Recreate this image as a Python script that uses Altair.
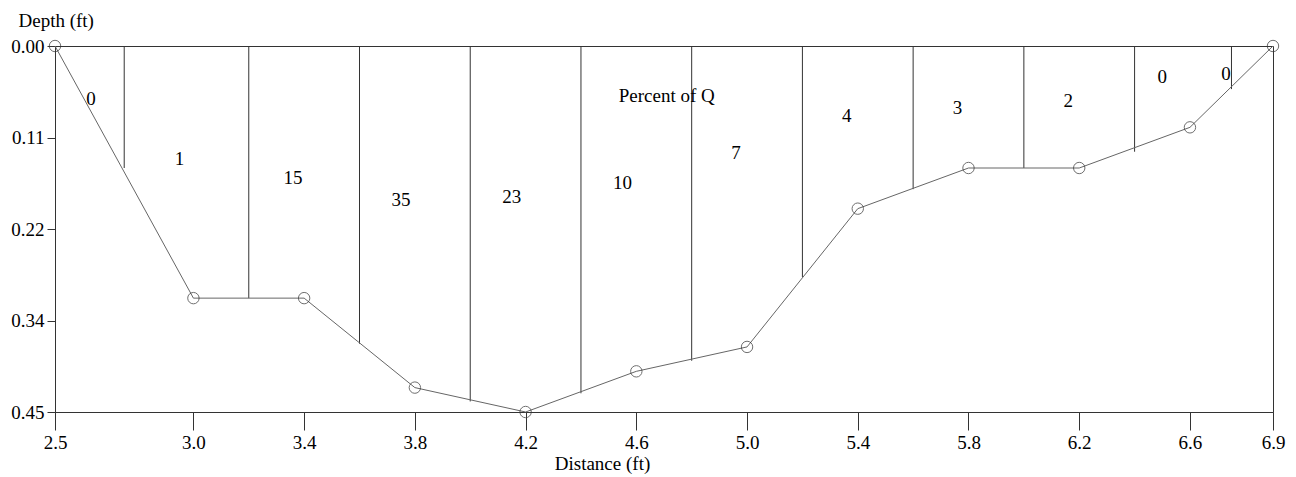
import altair as alt
import pandas as pd

# Channel bed profile (measured verticals)
distance = [2.5, 3.0, 3.4, 3.8, 4.2, 4.6, 5.0, 5.4, 5.8, 6.2, 6.6, 6.9]
depth = [0.0, 0.31, 0.31, 0.42, 0.45, 0.40, 0.37, 0.20, 0.15, 0.15, 0.10, 0.0]

# Subsection boundaries (vertical lines from the surface down to the bed)
boundary_x = [2.75, 3.2, 3.6, 4.0, 4.4, 4.8, 5.2, 5.6, 6.0, 6.4, 6.75]
boundary_depth = [0.15, 0.31, 0.366, 0.437, 0.427, 0.387, 0.284, 0.176, 0.15, 0.13, 0.053]

# Percent of discharge labels in each subsection
percent_q = ["0", "1", "15", "35", "23", "10", "7", "4", "3", "2", "0", "0"]
label_x = [2.63, 2.95, 3.36, 3.75, 4.15, 4.55, 4.96, 5.36, 5.76, 6.16, 6.50, 6.73]
label_depth = [0.065, 0.139, 0.162, 0.189, 0.186, 0.168, 0.132, 0.086, 0.076, 0.068, 0.038, 0.034]

annotation = ["Percent of Q"]
annotation_x = [4.71]
annotation_depth = [0.061]

x_ticks = [2.5, 3.0, 3.4, 3.8, 4.2, 4.6, 5.0, 5.4, 5.8, 6.2, 6.6, 6.9]
y_ticks = [0.0, 0.1125, 0.225, 0.3375, 0.45]
y_tick_labels = ["0.00", "0.11", "0.22", "0.34", "0.45"]

FONT = "Liberation Serif"
INK = "#333333"

profile_df = pd.DataFrame({"x": distance, "y": depth})
bound_df = pd.DataFrame({"x": boundary_x, "y": [0.0] * len(boundary_x), "y2": boundary_depth})
label_df = pd.DataFrame({"x": label_x, "y": label_depth, "label": percent_q})
annot_df = pd.DataFrame({"x": annotation_x, "y": annotation_depth, "label": annotation})

x_scale = alt.Scale(domain=[2.5, 6.9], nice=False, zero=False)
y_scale = alt.Scale(domain=[0, 0.45], nice=False, zero=False, reverse=True)

label_expr = "[" + ",".join("'%s'" % s for s in y_tick_labels) + "][round(datum.value / 0.1125)]"

x_axis = alt.Axis(
    values=x_ticks, format=".1f", grid=False, labelFlush=False,
    ticks=True, tickSize=18, tickWidth=1, labelPadding=3,
    titleX=547, titleY=51, titleAlign="center", titleBaseline="middle",
)
y_axis = alt.Axis(
    values=y_ticks, labelExpr=label_expr, grid=False, labelFlush=False,
    ticks=True, tickSize=8, tickWidth=1, labelPadding=3,
    titleAngle=0, titleX=-37, titleY=-26, titleAlign="left", titleBaseline="middle",
)

X = alt.X("x:Q", scale=x_scale, axis=x_axis, title="Distance (ft)")
Y = alt.Y("y:Q", scale=y_scale, axis=y_axis, title="Depth (ft)")

rules = alt.Chart(bound_df).mark_rule(color=INK, strokeWidth=1).encode(
    x=X, y=Y, y2="y2:Q"
)
line = alt.Chart(profile_df).mark_line(color="#666666", strokeWidth=1).encode(x=X, y=Y)
points = alt.Chart(profile_df).mark_point(
    shape="circle", filled=False, size=130, color=INK, strokeWidth=1
).encode(x=X, y=Y)
labels = alt.Chart(label_df).mark_text(
    font=FONT, fontSize=19, color="black", align="center", baseline="middle"
).encode(x=X, y=Y, text="label:N")
annot = alt.Chart(annot_df).mark_text(
    font=FONT, fontSize=19, color="black", align="center", baseline="middle"
).encode(x=X, y=Y, text="label:N")

chart = (
    alt.layer(rules, line, points, labels, annot)
    .properties(
        width=1218, height=366,
        autosize=alt.AutoSizeParams(type="none"),
        padding={"left": 47, "top": 38, "right": 15, "bottom": 62},
    )
    .configure_view(stroke=INK, strokeWidth=1)
    .configure_axis(
        domainColor=INK, tickColor=INK, labelColor="black", titleColor="black",
        labelFont=FONT, titleFont=FONT, labelFontSize=19, titleFontSize=19,
        titleFontWeight="normal",
    )
)

chart.save("out.html", embed_options={"renderer": "svg", "actions": False})
